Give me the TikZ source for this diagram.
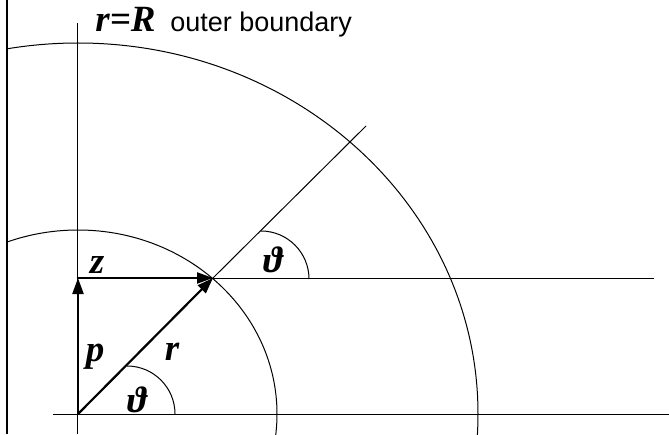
\documentclass[tikz,border=0pt]{standalone}
\usepackage{fontspec}
\setmainfont{Liberation Serif}
\newfontfamily\labelsans{Liberation Sans}
\usetikzlibrary{arrows.meta,positioning}

\begin{document}
\begin{tikzpicture}[
  x=0.5pt, y=0.5pt,
  thinline/.style={line width=0.5pt},
  vec/.style={-{Triangle[length=8pt,width=5.5pt]}, line width=1.1pt},
  sym/.style={font=\fontsize{18.5}{22}\selectfont\bfseries\itshape,
    inner sep=0pt},
  txt/.style={font=\fontsize{13.5}{16}\selectfont\labelsans,
    inner sep=0pt}
]
\useasboundingbox (-78,-20) rectangle (591,414);

% Points
\coordinate (O) at (0,0);
\coordinate (P) at (0,136);
\coordinate (Z) at (135,136);
\coordinate (D) at (288,288);

% Frame and axes
\draw[line width=1.25pt] (-71,-20) -- (-71,414);
\draw[thinline] (0,-20) -- (0,391);
\draw[thinline] (-25,0) -- (591,0);
\draw[thinline] (P) -- (576,136);
\draw[thinline] (Z) -- (D);

% Boundaries
\begin{scope}
  \clip (-71,-20) rectangle (591,414);
  \draw[thinline] (O) ellipse [x radius=199, y radius=184];
  \draw[thinline] (O) ellipse [x radius=400, y radius=371];
\end{scope}

% Angles
\draw[thinline] (49,48) arc [start angle=90, end angle=0, radius=48];
\draw[thinline] (183,183) arc [start angle=90, end angle=0, radius=48];

% Vectors
\draw[vec] (O) -- (P);
\draw[vec] (P) -- (Z);
\draw[vec] (O) -- (Z);

% Labels
\node[sym] (zlbl) at (19,149) {z};
\node[sym] (plbl) at (17,57) {p};
\node[sym] (rlbl) at (94,62) {r};
\node[sym] (thlow) at (59,14) {ϑ};
\node[sym] (thup) at (195,154) {ϑ};
\node[sym, anchor=base west] (rR) at (17,382) {r=R};
\node[txt, right=7pt of rR.base east, anchor=base west] (outer)
  {outer boundary};

\end{tikzpicture}
\end{document}
